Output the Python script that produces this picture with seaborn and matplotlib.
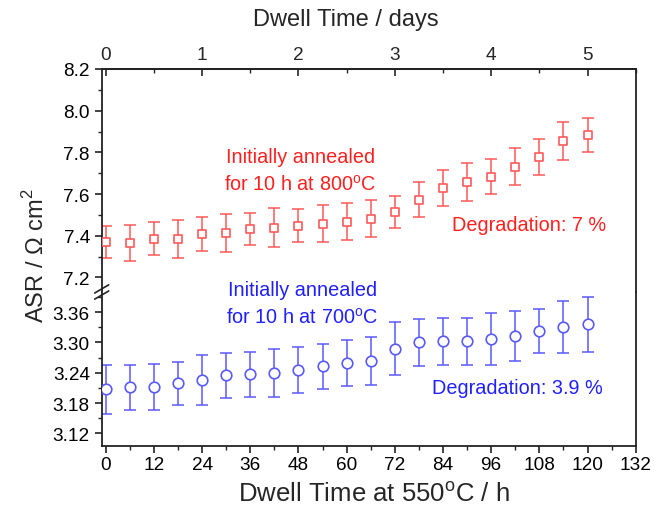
import numpy as np
import matplotlib
matplotlib.use("Agg")
import matplotlib.pyplot as plt
import seaborn as sns
from matplotlib.ticker import MultipleLocator, FormatStrFormatter
from matplotlib.lines import Line2D

# dwell time at 550 C (h)
hours = [0, 6, 12, 18, 24, 30, 36, 42, 48, 54, 60, 66, 72, 78, 84, 90, 96, 102, 108, 114, 120]

# annealed at 800 C
asr_800 = [7.370, 7.365, 7.386, 7.384, 7.408, 7.413, 7.431, 7.439, 7.449, 7.458, 7.468, 7.482,
           7.514, 7.573, 7.628, 7.658, 7.684, 7.732, 7.778, 7.855, 7.884]
err_800 = [0.075, 0.087, 0.080, 0.090, 0.083, 0.090, 0.077, 0.093, 0.078, 0.090, 0.088, 0.090,
           0.078, 0.085, 0.086, 0.093, 0.085, 0.090, 0.087, 0.093, 0.080]

# annealed at 700 C
asr_700 = [3.207, 3.211, 3.212, 3.219, 3.226, 3.235, 3.237, 3.240, 3.245, 3.253, 3.259, 3.263,
           3.288, 3.300, 3.302, 3.302, 3.307, 3.313, 3.323, 3.331, 3.336]
err_700 = [0.048, 0.045, 0.045, 0.043, 0.050, 0.045, 0.045, 0.047, 0.046, 0.045, 0.046, 0.047,
           0.052, 0.047, 0.047, 0.046, 0.052, 0.050, 0.044, 0.052, 0.055]

red = "#ff2020"
blue = "#2020ff"
red_mk = "#ff5a5a"
blue_mk = "#5a5aff"

sns.set_theme(style="ticks")
plt.rcParams["font.family"] = ["Liberation Sans", "DejaVu Sans"]
plt.rcParams["mathtext.fontset"] = "custom"
plt.rcParams["mathtext.rm"] = "Liberation Sans"
plt.rcParams["axes.edgecolor"] = "#222222"
plt.rcParams["axes.linewidth"] = 1.3

fig = plt.figure(figsize=(6.54, 5.10), dpi=100)
W, H = 654, 510
x0, x1 = 101.7, 635.7
y_top, y_brk, y_bot = 70, 293, 447
ax_up = fig.add_axes([x0 / W, (H - y_brk) / H, (x1 - x0) / W, (y_brk - y_top) / H])
ax_lo = fig.add_axes([x0 / W, (H - y_bot) / H, (x1 - x0) / W, (y_bot - y_brk) / H])

# upper panel
ax_up.errorbar(hours, asr_800, yerr=err_800, fmt="none", ecolor=red_mk, elinewidth=1.3,
               capsize=4.5, capthick=1.3, alpha=0.85)
sns.scatterplot(x=hours, y=asr_800, ax=ax_up, marker="s", s=36, facecolor="white",
                edgecolor=red_mk, linewidth=1.2, zorder=3)

# lower panel
ax_lo.errorbar(hours, asr_700, yerr=err_700, fmt="none", ecolor=blue_mk, elinewidth=1.3,
               capsize=4.5, capthick=1.3, alpha=0.85)
sns.scatterplot(x=hours, y=asr_700, ax=ax_lo, marker="o", s=58, facecolor="white",
                edgecolor=blue_mk, linewidth=1.2, zorder=3)

for ax in (ax_up, ax_lo):
    ax.set_xlim(-1, 132)
    ax.set_xlabel("")
    ax.set_ylabel("")
    ax.tick_params(axis="both", which="major", labelsize=13.7, length=5, width=1.2,
                   direction="out", colors="#222222")
    ax.tick_params(axis="both", which="minor", length=3, width=1.0, direction="out",
                   colors="#222222")
    ax.tick_params(axis="both", labelcolor="black")

ax_up.set_ylim(7.13, 8.2)
ax_up.yaxis.set_major_locator(MultipleLocator(0.2))
ax_up.yaxis.set_minor_locator(MultipleLocator(0.1))
ax_up.yaxis.set_major_formatter(FormatStrFormatter("%.1f"))
ax_up.spines["bottom"].set_visible(False)
ax_up.tick_params(axis="x", which="both", bottom=False, labelbottom=False)

ax_lo.set_ylim(3.095, 3.40)
ax_lo.set_yticks([3.12, 3.18, 3.24, 3.30, 3.36])
ax_lo.yaxis.set_minor_locator(MultipleLocator(0.03))
ax_lo.yaxis.set_major_formatter(FormatStrFormatter("%.2f"))
ax_lo.spines["top"].set_visible(False)
ax_lo.xaxis.set_major_locator(MultipleLocator(12))
ax_lo.xaxis.set_minor_locator(MultipleLocator(6))
ax_lo.tick_params(axis="x", which="major", pad=2)

# top axis in days
sec = ax_up.secondary_xaxis("top", functions=(lambda h: h / 24.0, lambda d: d * 24.0))
sec.set_xticks([0, 1, 2, 3, 4, 5])
sec.xaxis.set_minor_locator(MultipleLocator(0.5))
sec.tick_params(which="major", direction="in", length=5, width=1.2, labelsize=13.7, pad=4)
sec.tick_params(which="minor", direction="in", length=3, width=1.0)

# axis break marks on the left spine
yb = 1 - y_brk / H
for dy in (-0.006, 0.006):
    fig.add_artist(Line2D([(x0 - 7) / W, (x0 + 7) / W], [yb + dy - 0.008, yb + dy + 0.008],
                          color="#222222", lw=1.2))

# axis titles
fig.text(346 / W, 1 - 20 / H, "Dwell Time / days", fontsize=17, ha="center", va="center")
fig.text(374 / W, 1 - 494 / H, "Dwell Time at 550$^{\\mathrm{o}}$C / h", fontsize=18.5,
         ha="center", va="center")
fig.text(0.055, 1 - 256 / H, "ASR / $\\Omega$ cm$^2$", rotation=90, fontsize=17,
         ha="center", va="center")

# annotations
ax_up.text(48.5, 7.715, "Initially annealed\nfor 10 h at 800$^{\\mathrm{o}}$C", color=red,
           fontsize=14.3, ha="center", va="center", linespacing=1.5)
ax_up.text(105.5, 7.455, "Degradation: 7 %", color=red, fontsize=14.3, ha="center",
           va="center")
ax_lo.text(49, 3.377, "Initially annealed\nfor 10 h at 700$^{\\mathrm{o}}$C", color=blue,
           fontsize=14.3, ha="center", va="center", linespacing=1.5)
ax_lo.text(102.5, 3.211, "Degradation: 3.9 %", color=blue, fontsize=14.3, ha="center",
           va="center")

fig.savefig("out.png", dpi=100, facecolor="white")
